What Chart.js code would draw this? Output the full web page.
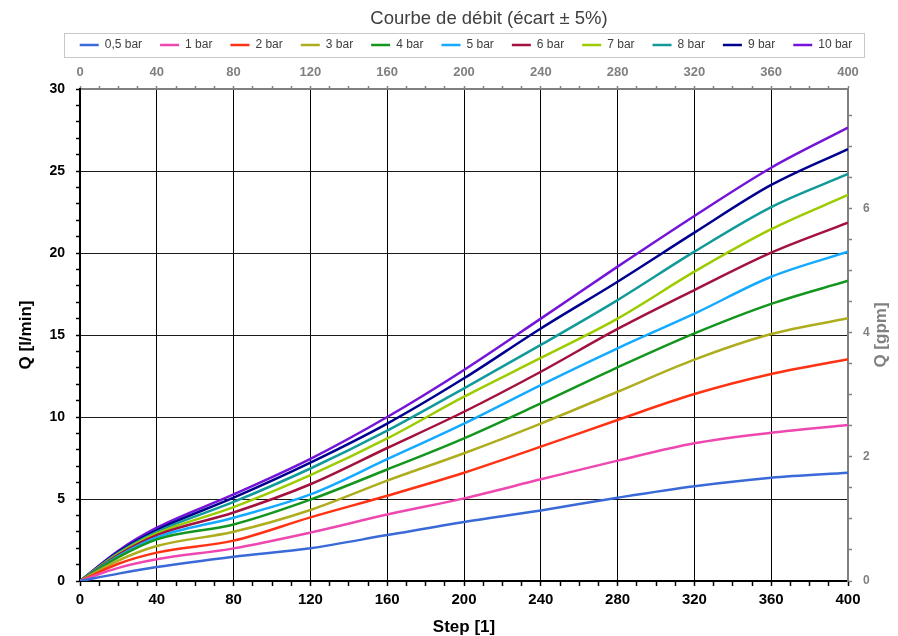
<!DOCTYPE html>
<html lang="fr">
<head>
<meta charset="UTF-8">
<title>Courbe de débit</title>
<style>
  body{ margin:0; background:#fff; }
  #wrap{ width:898px; height:636px; }
</style>
</head>
<body>
<div id="wrap"><canvas id="c" width="898" height="636"></canvas></div>

<script src="https://cdn.jsdelivr.net/npm/chart.js"></script>
<script>
"use strict";

// steps
const steps = [0, 20, 40, 80, 120, 160, 200, 240, 280, 320, 360, 400];

const bar05 = [0, 0.45, 0.85, 1.48, 2.0, 2.8, 3.6, 4.3, 5.08, 5.78, 6.3, 6.6];
const bar1  = [0, 0.8, 1.32, 1.99, 2.95, 4.05, 5.04, 6.2, 7.34, 8.4, 9.04, 9.51];
const bar2  = [0, 1.05, 1.73, 2.46, 3.88, 5.2, 6.6, 8.19, 9.82, 11.4, 12.62, 13.52];
const bar3  = [0, 1.25, 2.13, 3.0, 4.33, 6.12, 7.79, 9.6, 11.54, 13.5, 15.06, 16.02];
const bar4  = [0, 1.45, 2.54, 3.45, 4.96, 6.8, 8.7, 10.83, 13.03, 15.1, 16.9, 18.31];
const bar5  = [0, 1.52, 2.66, 3.86, 5.28, 7.43, 9.6, 11.95, 14.19, 16.3, 18.55, 20.08];
const bar6  = [0, 1.6, 2.8, 4.18, 5.9, 8.11, 10.32, 12.76, 15.37, 17.74, 20.02, 21.85];
const bar7  = [0, 1.66, 2.9, 4.5, 6.45, 8.69, 11.24, 13.6, 16.0, 18.86, 21.45, 23.54];
const bar8  = [0, 1.72, 3.0, 4.82, 6.86, 9.17, 11.75, 14.4, 17.13, 20.08, 22.8, 24.82];
const bar9  = [0, 1.78, 3.11, 5.08, 7.22, 9.6, 12.36, 15.4, 18.25, 21.24, 24.15, 26.34];
const bar10 = [0, 1.85, 3.25, 5.28, 7.45, 10.0, 12.87, 16.0, 19.17, 22.26, 25.2, 27.64];

const seriesNames  = ['0,5 bar', '1 bar', '2 bar', '3 bar', '4 bar', '5 bar', '6 bar', '7 bar', '8 bar', '9 bar', '10 bar'];
const seriesValues = [bar05, bar1, bar2, bar3, bar4, bar5, bar6, bar7, bar8, bar9, bar10];
const seriesColors = ['#3a6ad8', '#ee48b0', '#ff3314', '#adad1e', '#14961e', '#14aaff', '#a3123f', '#9ccc00', '#129a9a', '#00008f', '#7314d8'];

const stepMajor = 40;     // labelled steps
const qMajor = 5;         // labelled l/min
const gpmMajor = 2;       // labelled gpm
const LPM_PER_GPM = 3.785;

const FONT = '"Liberation Sans", Arial, sans-serif';
Chart.defaults.font.family = FONT;

const isMult = (v, m) => Math.abs(v / m - Math.round(v / m)) < 1e-6;

const datasets = seriesNames.map((name, i) => ({
     label: name,
     data: steps.map((s, k) => ({ x: s, y: seriesValues[i][k] })),
     borderColor: seriesColors[i],
     backgroundColor: seriesColors[i],
     borderWidth: 2.5,
     pointRadius: 0,
     cubicInterpolationMode: 'monotone',
     xAxisID: 'x',
     yAxisID: 'y'
}));

// legend frame, centring tweaks and the right axis title
const decor = {
     id: 'decor',
     afterLayout(chart){
          const t = chart.titleBlock, lg = chart.legend;
          t.left += 40; t.right += 40;
          t.top += 8; t.bottom += 8;
          lg.left += 17; lg.right += 17;
          const dy = 21 - lg.top;
          lg.top += dy; lg.bottom += dy;
     },
     afterDraw(chart){
          const ctx = chart.ctx;
          const hb = chart.legend.legendHitBoxes;
          const first = hb[0], last = hb[hb.length - 1];
          const cy = first.top + first.height / 2;
          const x0 = Math.round(first.left - 16), x1 = Math.round(last.left + last.width + 12);
          ctx.save();
          ctx.strokeStyle = '#c8c8c8';
          ctx.lineWidth = 1;
          ctx.strokeRect(x0 + 0.5, Math.round(cy - 12) + 0.5, x1 - x0, 24);

          const a = chart.chartArea;
          ctx.translate(881, (a.top + a.bottom) / 2);
          ctx.rotate(-Math.PI / 2);
          ctx.font = 'bold 17px ' + FONT;
          ctx.fillStyle = '#808080';
          ctx.textAlign = 'center';
          ctx.textBaseline = 'middle';
          ctx.fillText('Q [gpm]', 0, 0);
          ctx.restore();
     }
};

new Chart(document.getElementById('c'), {
     type: 'line',
     data: { datasets },
     plugins: [decor],
     options: {
          responsive: false,
          animation: false,
          layout: { padding: 0 },
          plugins: {
               title: {
                    display: true,
                    text: 'Courbe de débit (écart ± 5%)',
                    color: '#404040',
                    font: { size: 18.5, weight: 'normal' },
                    padding: { top: 0, bottom: 0 }
               },
               legend: {
                    labels: {
                         usePointStyle: true,
                         pointStyle: 'line',
                         pointStyleWidth: 19,
                         color: '#404040',
                         font: { size: 12 },
                         padding: 18
                    }
               },
               tooltip: { enabled: false }
          },
          scales: {
               x: {
                    type: 'linear', position: 'bottom', min: 0, max: 400,
                    ticks: {
                         stepSize: 10, autoSkip: false, maxRotation: 0, padding: 5,
                         color: '#000', font: { size: 15, weight: 'bold' },
                         callback: v => isMult(v, stepMajor) ? v : ''
                    },
                    grid: {
                         color: c => (c.tick && isMult(c.tick.value, stepMajor) && c.tick.value > 0 && c.tick.value < 400) ? '#000' : 'rgba(0,0,0,0)',
                         lineWidth: 1, tickColor: '#000', tickLength: 5, tickWidth: 1.5
                    },
                    border: { color: '#000', width: 2 },
                    title: {
                         display: true, text: 'Step [1]', color: '#000',
                         font: { size: 17, weight: 'bold', lineHeight: 1 },
                         padding: { top: 0, bottom: 0 }
                    },
                    afterFit: s => { s.height = 55; }
               },
               x2: {
                    type: 'linear', position: 'top', min: 0, max: 400,
                    ticks: {
                         stepSize: 10, autoSkip: false, maxRotation: 0, padding: 6,
                         color: '#808080', font: { size: 13, weight: 'bold' },
                         callback: v => isMult(v, stepMajor) ? v : ''
                    },
                    grid: { drawOnChartArea: false, tickColor: '#808080', tickLength: 3, tickWidth: 1.5 },
                    border: { color: '#808080', width: 2 },
                    afterFit: s => {
                         const ch = s.chart;
                         s.height = 89 - ch.titleBlock.height - ch.legend.height;
                    }
               },
               y: {
                    type: 'linear', position: 'left', min: 0, max: 30,
                    ticks: {
                         stepSize: 1, autoSkip: false, padding: 11,
                         color: '#000', font: { size: 14, weight: 'bold' },
                         callback: v => isMult(v, qMajor) ? v : ''
                    },
                    grid: {
                         color: c => (c.tick && isMult(c.tick.value, qMajor) && c.tick.value > 0 && c.tick.value < 30) ? '#1a1a1a' : 'rgba(0,0,0,0)',
                         lineWidth: 1, tickColor: '#000', tickLength: 4, tickWidth: 1.5
                    },
                    border: { color: '#000', width: 2 },
                    title: {
                         display: true, text: 'Q [l/min]', color: '#000',
                         font: { size: 17, weight: 'bold', lineHeight: 1 },
                         padding: { top: 18, bottom: 0 }
                    },
                    afterFit: s => { s.width = 80; }
               },
               y2: {
                    type: 'linear', position: 'right', min: 0, max: 30 / LPM_PER_GPM,
                    ticks: {
                         stepSize: 0.5, autoSkip: false, includeBounds: false, padding: 11,
                         color: '#808080', font: { size: 12, weight: 'bold' },
                         callback: v => isMult(v, gpmMajor) ? v : ''
                    },
                    grid: { drawOnChartArea: false, tickColor: '#808080', tickLength: 4, tickWidth: 1.5 },
                    border: { color: '#808080', width: 2 },
                    afterFit: s => { s.width = 50; }
               }
          }
     }
});
</script>
</body>
</html>
